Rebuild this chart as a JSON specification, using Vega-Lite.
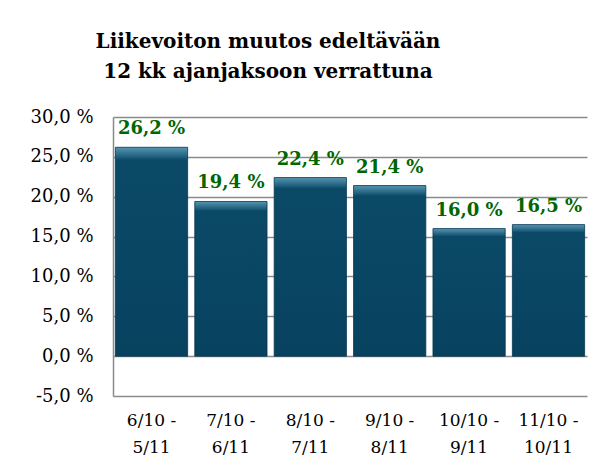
{
  "$schema": "https://vega.github.io/schema/vega-lite/v6.json",
  "autosize": {"type": "none"},
  "width": 474,
  "height": 279,
  "padding": {"left": 113, "top": 117, "right": 18, "bottom": 75},
  "background": "white",
  "title": {
    "text": ["Liikevoiton muutos edeltävään", "12 kk ajanjaksoon verrattuna"],
    "font": "DejaVu Serif",
    "fontSize": 20,
    "fontWeight": "bold",
    "color": "black",
    "lineHeight": 30,
    "anchor": "middle",
    "dx": -82,
    "offset": 26
  },
  "data": {
    "values": [
      {"period": "6/10 - 5/11", "value": 26.2, "label": "26,2 %"},
      {"period": "7/10 - 6/11", "value": 19.4, "label": "19,4 %"},
      {"period": "8/10 - 7/11", "value": 22.4, "label": "22,4 %"},
      {"period": "9/10 - 8/11", "value": 21.4, "label": "21,4 %"},
      {"period": "10/10 - 9/11", "value": 16.0, "label": "16,0 %"},
      {"period": "11/10 - 10/11", "value": 16.5, "label": "16,5 %"}
    ]
  },
  "config": {"view": {"stroke": null}},
  "encoding": {
    "x": {
      "field": "period",
      "type": "nominal",
      "sort": null,
      "scale": {"paddingInner": 0.09, "paddingOuter": 0.03},
      "axis": {
        "title": null,
        "domain": false,
        "ticks": false,
        "labelAngle": 0,
        "labelFont": "DejaVu Serif",
        "labelFontSize": 17,
        "labelColor": "black",
        "labelPadding": 16,
        "labelLineHeight": 27,
        "labelBaseline": "top",
        "labelExpr": "[split(datum.label, ' - ')[0] + ' -', split(datum.label, ' - ')[1]]"
      }
    },
    "y": {
      "field": "value",
      "type": "quantitative",
      "scale": {"domain": [-5, 30], "nice": false},
      "axis": {
        "title": null,
        "values": [-5, 0, 5, 10, 15, 20, 25, 30],
        "domain": true,
        "domainColor": "#8a8a8a",
        "domainWidth": 1.5,
        "grid": true,
        "gridColor": "#8a8a8a",
        "gridWidth": 1.5,
        "ticks": false,
        "labelFont": "DejaVu Serif",
        "labelFontSize": 18,
        "labelColor": "black",
        "labelPadding": 20,
        "labelExpr": "replace(replace(format(datum.value, '.1f'), '.', ','), '\u2212', '-') + ' %'"
      }
    }
  },
  "layer": [
    {
      "mark": {
        "type": "bar",
        "color": {
          "x1": 0, "y1": 0, "x2": 0, "y2": 1,
          "gradient": "linear",
          "stops": [
            {"offset": 0, "color": "#5796b2"},
            {"offset": 0.05, "color": "#1a5a78"},
            {"offset": 0.06, "color": "#0b4a67"},
            {"offset": 1, "color": "#07425f"}
          ]
        },
        "stroke": "#063650",
        "strokeWidth": 0.8
      }
    },
    {
      "mark": {
        "type": "text",
        "font": "DejaVu Serif",
        "fontSize": 18,
        "fontWeight": "bold",
        "color": "#006600",
        "baseline": "alphabetic",
        "dy": -13
      },
      "encoding": {"text": {"field": "label"}}
    }
  ]
}
